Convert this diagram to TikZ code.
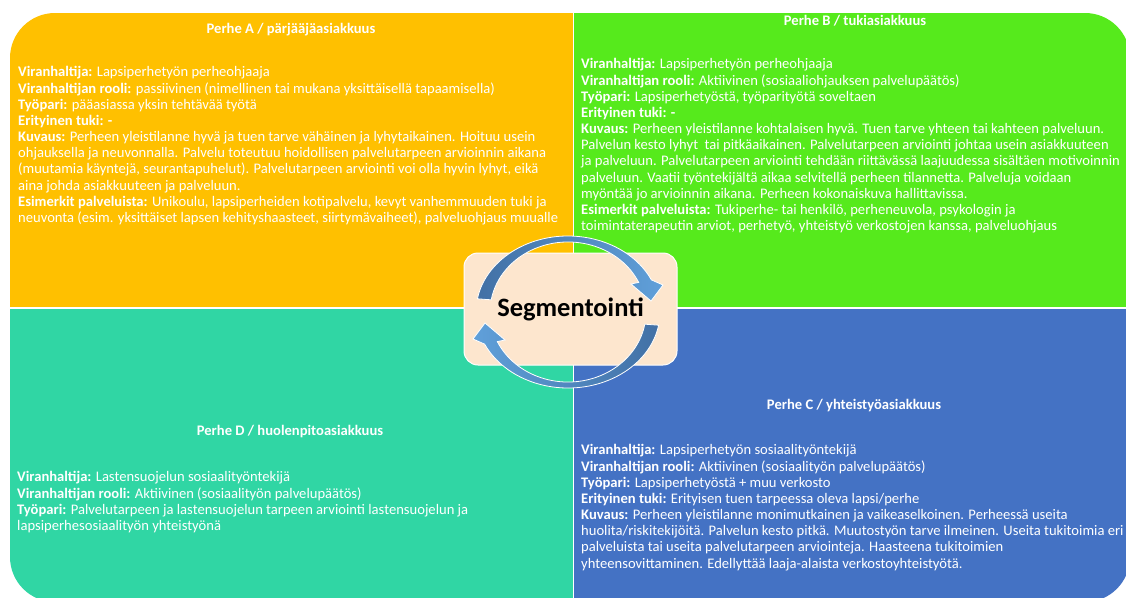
\documentclass[tikz,border=0pt]{standalone}
\usepackage{fontspec}
\setmainfont{Carlito}
\definecolor{qa}{RGB}{255,192,0}
\definecolor{qb}{RGB}{86,234,28}
\definecolor{qc}{RGB}{68,114,196}
\definecolor{qd}{RGB}{48,214,164}
\definecolor{peach}{RGB}{253,230,206}
\definecolor{arcdark}{RGB}{66,112,165}
\definecolor{arclight}{RGB}{96,160,218}
\begin{document}
\begin{tikzpicture}[x=1pt,y=-1pt,
  head/.style={font=\fontsize{14.6}{16}\selectfont\bfseries, text=white, inner sep=0},
  body/.style={font=\fontsize{14.6}{16.15}\selectfont, text=white, align=left, anchor=north west, inner sep=0},
  sep/.style={white, line width=1.5},
  band/.style={draw=white, line width=0.8},
]
\useasboundingbox (0,0) rectangle (1126,597);
\begin{scope}
  \clip[rounded corners=45] (10,13) rectangle (1130,602);
  \fill[qa] (10,13) rectangle (573.5,308);
  \fill[qb] (573.5,13) rectangle (1130,308);
  \fill[qd] (10,308) rectangle (573.5,602);
  \fill[qc] (573.5,308) rectangle (1130,602);
  \draw[sep] (573.5,13) -- (573.5,602);
  \draw[sep] (10,308) -- (1130,308);
\end{scope}

% headings
\node[head] (hA) at (291,30) {Perhe A / pärjääjäasiakkuus};
\node[head] (hB) at (855,21) {Perhe B / tukiasiakkuus};
\node[head] (hD) at (290,432) {Perhe D / huolenpitoasiakkuus};
\node[head] (hC) at (854,406) {Perhe C / yhteistyöasiakkuus};

% bodies
\node[body] (tA) at (18,66.5) {%
\textbf{Viranhaltija:} Lapsiperhetyön perheohjaaja\\
\textbf{Viranhaltijan rooli:} passiivinen (nimellinen tai mukana yksittäisellä tapaamisella)\\
\textbf{Työpari:} pääasiassa yksin tehtävää työtä\\
\textbf{Erityinen tuki: -}\\
\textbf{Kuvaus:} Perheen yleistilanne hyvä ja tuen tarve vähäinen ja lyhytaikainen. Hoituu usein\\
ohjauksella ja neuvonnalla. Palvelu toteutuu hoidollisen palvelutarpeen arvioinnin aikana\\
(muutamia käyntejä, seurantapuhelut). Palvelutarpeen arviointi voi olla hyvin lyhyt, eikä\\
aina johda asiakkuuteen ja palveluun.\\
\textbf{Esimerkit palveluista:} Unikoulu, lapsiperheiden kotipalvelu, kevyt vanhemmuuden tuki ja\\
neuvonta (esim. yksittäiset lapsen kehityshaasteet, siirtymävaiheet), palveluohjaus muualle};

\node[body] (tB) at (581,58.5) {%
\textbf{Viranhaltija:} Lapsiperhetyön perheohjaaja\\
\textbf{Viranhaltijan rooli:} Aktiivinen (sosiaaliohjauksen palvelupäätös)\\
\textbf{Työpari:} Lapsiperhetyöstä, työparityötä soveltaen\\
\textbf{Erityinen tuki: -}\\
\textbf{Kuvaus:} Perheen yleistilanne kohtalaisen hyvä. Tuen tarve yhteen tai kahteen palveluun.\\
Palvelun kesto lyhyt\ \ tai pitkäaikainen. Palvelutarpeen arviointi johtaa usein asiakkuuteen\\
ja palveluun. Palvelutarpeen arviointi tehdään riittävässä laajuudessa sisältäen motivoinnin\\
palveluun. Vaatii työntekijältä aikaa selvitellä perheen tilannetta. Palveluja voidaan\\
myöntää jo arvioinnin aikana. Perheen kokonaiskuva hallittavissa.\\
\textbf{Esimerkit palveluista:} Tukiperhe- tai henkilö, perheneuvola, psykologin ja\\
toimintaterapeutin arviot, perhetyö, yhteistyö verkostojen kanssa, palveluohjaus};

\node[body] (tD) at (17,471.5) {%
\textbf{Viranhaltija:} Lastensuojelun sosiaalityöntekijä\\
\textbf{Viranhaltijan rooli:} Aktiivinen (sosiaalityön palvelupäätös)\\
\textbf{Työpari:} Palvelutarpeen ja lastensuojelun tarpeen arviointi lastensuojelun ja\\
lapsiperhesosiaalityön yhteistyönä};

\node[body] (tC) at (581,444.5) {%
\textbf{Viranhaltija:} Lapsiperhetyön sosiaalityöntekijä\\
\textbf{Viranhaltijan rooli:} Aktiivinen (sosiaalityön palvelupäätös)\\
\textbf{Työpari:} Lapsiperhetyöstä + muu verkosto\\
\textbf{Erityinen tuki:} Erityisen tuen tarpeessa oleva lapsi/perhe\\
\textbf{Kuvaus:} Perheen yleistilanne monimutkainen ja vaikeaselkoinen. Perheessä useita\\
huolita/riskitekijöitä. Palvelun kesto pitkä. Muutostyön tarve ilmeinen. Useita tukitoimia eri\\
palveluista tai useita palvelutarpeen arviointeja. Haasteena tukitoimien\\
yhteensovittaminen. Edellyttää laaja-alaista verkostoyhteistyötä.};

% centre
\node[draw=white, line width=1, fill=peach, rounded corners=14,
      minimum width=213, minimum height=112, inner sep=0,
      font=\fontsize{26.5}{30}\selectfont\bfseries] (seg) at (570.5,309) {Segmentointi};

% circular arrows (tapered bands)
\shadedraw[band, left color=arcdark, right color=arclight]
  (477.4,298.8) arc[start angle=190, end angle=335, x radius=92, y radius=76]
  -- (663,285) -- (651,301) -- (631,284) -- (638.7,282.4)
  arc[start angle=335, end angle=190, x radius=78, y radius=70] -- cycle;
\shadedraw[band, left color=arclight, right color=arcdark]
  (658.6,325.2) arc[start angle=10, end angle=155, x radius=92, y radius=76]
  -- (473,339) -- (485,323) -- (505,340) -- (497.3,341.6)
  arc[start angle=155, end angle=10, x radius=78, y radius=70] -- cycle;
\end{tikzpicture}
\end{document}
